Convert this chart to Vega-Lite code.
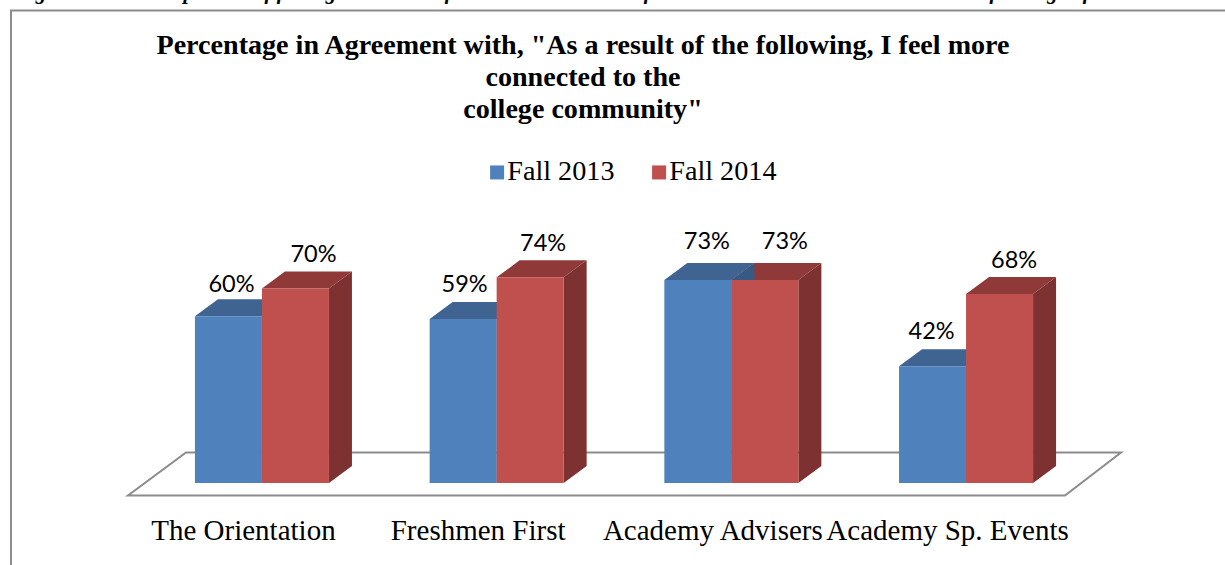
{
  "$schema": "https://vega.github.io/schema/vega-lite/v6.json",
  "width": 1225,
  "height": 565,
  "padding": 0,
  "autosize": {"type": "none"},
  "background": "white",
  "config": {"view": {"stroke": null}},
  "title": {
    "text": ["Percentage in Agreement with, \"As a result of the following, I feel more", "connected to the", "college community\""],
    "font": "Liberation Serif",
    "fontSize": 28.1,
    "fontWeight": "bold",
    "lineHeight": 32,
    "color": "black",
    "anchor": "start",
    "align": "center",
    "baseline": "alphabetic",
    "frame": "group",
    "dx": 583,
    "dy": 165,
    "offset": 0
  },
  "layer": [
    {
      "description": "Page caption clipped by the top edge",
      "data": {"values": [{"caption": "Figure 9: The Comparison of feeling connected of Students in the Fall of Students at Orientation and Advisers of College of Students"}]},
      "mark": {"type": "text", "font": "Liberation Serif", "fontStyle": "italic", "fontWeight": "bold", "fontSize": 21, "align": "left", "baseline": "alphabetic"},
      "encoding": {"x": {"value": 16}, "y": {"value": -1.5}, "text": {"field": "caption"}, "color": {"value": "black"}}
    },
    {
      "description": "Open chart frame on the left and top sides",
      "data": {"values": [{"part": "frame"}]},
      "mark": {"type": "point", "filled": false, "opacity": 1, "stroke": "#8c8c8c", "strokeWidth": 2, "fill": null},
      "encoding": {"x": {"value": 0}, "y": {"value": 0}, "size": {"value": 4}, "shape": {"value": "M11,565 L11,10.5 L1225,10.5"}}
    },
    {
      "description": "Floor plane of the 3-D plot, anchored at the zero level",
      "data": {"values": [{"part": "floor"}]},
      "mark": {"type": "point", "filled": false, "opacity": 1, "stroke": "#8c8c8c", "strokeWidth": 2, "fill": "white"},
      "encoding": {
        "x": {"value": 0},
        "y": {"datum": 0, "type": "quantitative", "scale": {"domain": [0, 1], "range": [483, 205]}, "axis": null},
        "size": {"value": 4},
        "shape": {"value": "M128,12.5 L1065,12.5 L1121,-30.5 L186,-30.5 Z"}
      }
    },
    {
      "data": {
        "values": [
          {"program": "The Orientation", "term": "Fall 2013", "value": 0.60},
          {"program": "The Orientation", "term": "Fall 2014", "value": 0.70},
          {"program": "Freshmen First", "term": "Fall 2013", "value": 0.59},
          {"program": "Freshmen First", "term": "Fall 2014", "value": 0.74},
          {"program": "Academy Advisers", "term": "Fall 2013", "value": 0.73},
          {"program": "Academy Advisers", "term": "Fall 2014", "value": 0.73},
          {"program": "Academy Sp. Events", "term": "Fall 2013", "value": 0.42},
          {"program": "Academy Sp. Events", "term": "Fall 2014", "value": 0.68}
        ]
      },
      "transform": [
        {"calculate": "'M33.5,0 L56.5,-17 L56.5,' + (datum.value * 278 - 17) + ' L33.5,' + (datum.value * 278) + ' Z'", "as": "sidePath"}
      ],
      "encoding": {
        "x": {
          "field": "program",
          "type": "nominal",
          "sort": null,
          "scale": {"range": [144.6, 1083.4], "paddingInner": 0.429, "paddingOuter": 0.2145},
          "axis": {
            "title": null,
            "domain": false,
            "ticks": false,
            "labelAngle": 0,
            "labelFont": "Liberation Serif",
            "labelFontSize": 29,
            "labelColor": "black",
            "labelOverlap": false,
            "labelBound": false,
            "labelFlush": false,
            "labelLimit": 0,
            "labelBaseline": "alphabetic",
            "labelOffset": -18.5,
            "labelPadding": 0,
            "offset": -26
          }
        },
        "xOffset": {"field": "term", "type": "nominal", "scale": {"paddingInner": 0, "paddingOuter": 0}},
        "y": {"field": "value", "type": "quantitative", "scale": {"domain": [0, 1], "range": [483, 205]}, "axis": null}
      },
      "layer": [
        {
          "description": "Top faces of the bars",
          "mark": {"type": "point", "filled": true, "opacity": 1, "stroke": null},
          "encoding": {
            "size": {"value": 4},
            "shape": {"value": "M-33.5,0 L33.5,0 L56.5,-17 L-10.5,-17 Z"},
            "fill": {"condition": {"test": "datum.term === 'Fall 2013'", "value": "#3f6491"}, "value": "#8f3a39"}
          }
        },
        {
          "description": "Right-hand side faces of the bars",
          "mark": {"type": "point", "filled": true, "opacity": 1, "stroke": null},
          "encoding": {
            "size": {"value": 4},
            "shape": {"field": "sidePath", "type": "nominal", "scale": null, "legend": null},
            "fill": {"condition": {"test": "datum.term === 'Fall 2013'", "value": "#375a85"}, "value": "#7d3231"}
          }
        },
        {
          "description": "Front faces of the bars",
          "mark": {"type": "bar"},
          "encoding": {
            "y2": {"datum": 0},
            "color": {
              "field": "term",
              "type": "nominal",
              "scale": {"domain": ["Fall 2013", "Fall 2014"], "range": ["#4f81bd", "#c0504d"]},
              "legend": {
                "title": null,
                "orient": "none",
                "legendX": 483,
                "legendY": 158,
                "padding": 0,
                "direction": "horizontal",
                "symbolType": "square",
                "symbolSize": 196,
                "symbolStrokeWidth": 0,
                "labelFont": "Liberation Serif",
                "labelFontSize": 28.2,
                "labelColor": "black",
                "labelLimit": 0,
                "columnPadding": 30,
                "labelOffset": -4
              }
            }
          }
        },
        {"transform": [{"filter": "datum.program === 'The Orientation' && datum.term === 'Fall 2013'"}], "mark": {"type": "text", "font": "Lato", "fontSize": 23.5, "baseline": "alphabetic", "dx": 3, "dy": -24}, "encoding": {"text": {"field": "value", "format": ".0%"}}},
        {"transform": [{"filter": "datum.program === 'The Orientation' && datum.term === 'Fall 2014'"}], "mark": {"type": "text", "font": "Lato", "fontSize": 23.5, "baseline": "alphabetic", "dx": 18, "dy": -26}, "encoding": {"text": {"field": "value", "format": ".0%"}}},
        {"transform": [{"filter": "datum.program === 'Freshmen First' && datum.term === 'Fall 2013'"}], "mark": {"type": "text", "font": "Lato", "fontSize": 23.5, "baseline": "alphabetic", "dx": 1.5, "dy": -27}, "encoding": {"text": {"field": "value", "format": ".0%"}}},
        {"transform": [{"filter": "datum.program === 'Freshmen First' && datum.term === 'Fall 2014'"}], "mark": {"type": "text", "font": "Lato", "fontSize": 23.5, "baseline": "alphabetic", "dx": 13, "dy": -26}, "encoding": {"text": {"field": "value", "format": ".0%"}}},
        {"transform": [{"filter": "datum.program === 'Academy Advisers' && datum.term === 'Fall 2013'"}], "mark": {"type": "text", "font": "Lato", "fontSize": 23.5, "baseline": "alphabetic", "dx": 9, "dy": -31}, "encoding": {"text": {"field": "value", "format": ".0%"}}},
        {"transform": [{"filter": "datum.program === 'Academy Advisers' && datum.term === 'Fall 2014'"}], "mark": {"type": "text", "font": "Lato", "fontSize": 23.5, "baseline": "alphabetic", "dx": 20, "dy": -31}, "encoding": {"text": {"field": "value", "format": ".0%"}}},
        {"transform": [{"filter": "datum.program === 'Academy Sp. Events' && datum.term === 'Fall 2013'"}], "mark": {"type": "text", "font": "Lato", "fontSize": 23.5, "baseline": "alphabetic", "dx": -1, "dy": -27}, "encoding": {"text": {"field": "value", "format": ".0%"}}},
        {"transform": [{"filter": "datum.program === 'Academy Sp. Events' && datum.term === 'Fall 2014'"}], "mark": {"type": "text", "font": "Lato", "fontSize": 23.5, "baseline": "alphabetic", "dx": 14.5, "dy": -26}, "encoding": {"text": {"field": "value", "format": ".0%"}}}
      ]
    }
  ]
}
